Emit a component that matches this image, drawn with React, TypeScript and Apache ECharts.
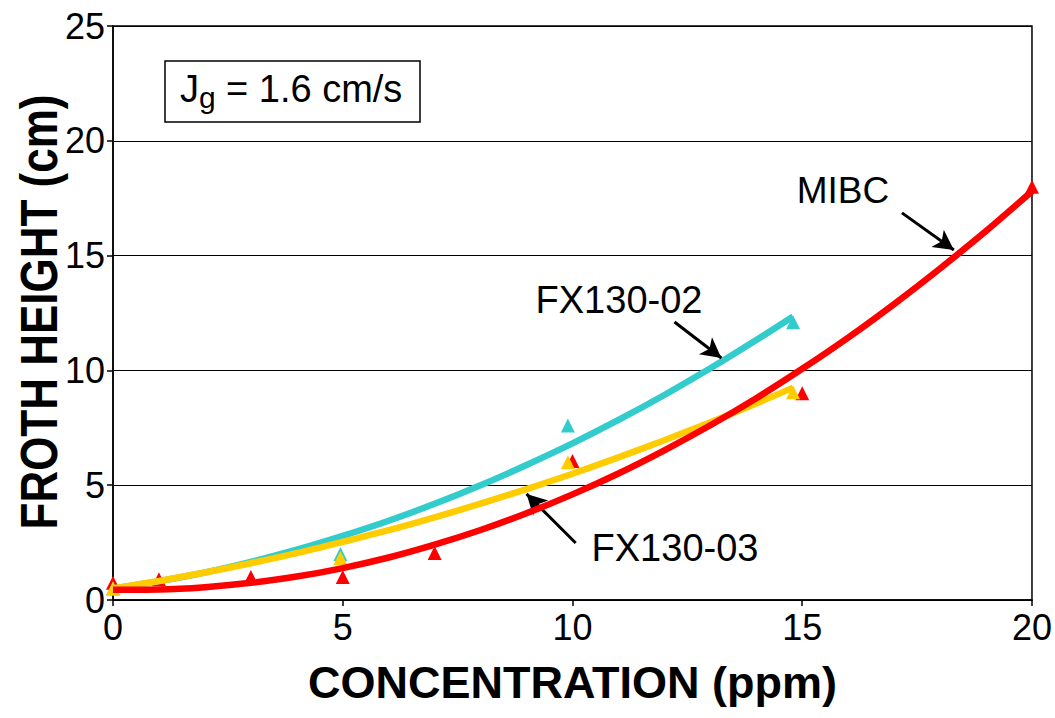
import React, { useEffect, useRef } from "react";
import * as echarts from "echarts";

// Measured points (triangles)
const mibcX = [0, 1, 3, 5, 7, 10, 15, 20];
const mibcY = [0.75, 0.9, 1.0, 1.0, 2.05, 6.05, 9.0, 18.0];
const fx02X = [0, 4.95, 9.9, 14.8];
const fx02Y = [0.5, 2.0, 7.6, 12.1];
const fx03X = [0, 4.95, 9.9, 14.8];
const fx03Y = [0.5, 1.83, 6.0, 9.05];

// Trend curves
const mibcTrendX = [0, 1, 2, 3, 4, 5, 6, 7, 8, 9, 10, 11, 12, 13, 14, 15, 16, 17, 18, 19, 20];
const mibcTrendY = [0.45, 0.46, 0.56, 0.75, 1.02, 1.39, 1.85, 2.41, 3.05, 3.78, 4.6, 5.51, 6.52, 7.61, 8.79, 10.07, 11.43, 12.89, 14.44, 16.07, 17.8];
const fx02TrendX = [0, 1, 2, 3, 4, 5, 6, 7, 8, 9, 10, 11, 12, 13, 14, 14.8];
const fx02TrendY = [0.5, 0.82, 1.2, 1.66, 2.19, 2.79, 3.45, 4.19, 5.0, 5.88, 6.82, 7.84, 8.93, 10.09, 11.32, 12.35];
const fx03TrendX = [0, 1, 2, 3, 4, 5, 6, 7, 8, 9, 10, 11, 12, 13, 14, 14.8];
const fx03TrendY = [0.5, 0.83, 1.2, 1.6, 2.04, 2.53, 3.04, 3.6, 4.2, 4.83, 5.5, 6.21, 6.96, 7.74, 8.56, 9.25];

// Annotation arrows [fromX, fromY, toX, toY] in data units
const arrows = [
  [17.17, 16.86, 18.3, 15.24],
  [12.22, 12.11, 13.24, 10.54],
  [10.07, 2.48, 9.0, 4.62],
];

const xTicks = [0, 5, 10, 15, 20];
const yTicks = [0, 5, 10, 15, 20, 25];

const RED = "#ff0000";
const CYAN = "#33cccc";
const YELLOW = "#ffcc00";
const FONT = "Liberation Sans, Arial, sans-serif";

const zip = (xs: number[], ys: number[]) => xs.map((x, i) => [x, ys[i]]);

export default function App() {
  const ref = useRef<HTMLDivElement>(null);
  useEffect(() => {
    if (!ref.current) return;
    const chart = echarts.init(ref.current, undefined, { renderer: "svg" });
    const trend = (name: string, xs: number[], ys: number[], color: string, z: number) => ({
      name,
      type: "line",
      data: zip(xs, ys),
      smooth: 0.3,
      showSymbol: false,
      symbol: "none",
      lineStyle: { color, width: 6.5 },
      z,
      silent: true,
    });
    const pts = (name: string, xs: number[], ys: number[], color: string, z: number) => ({
      name,
      type: "scatter",
      data: zip(xs, ys),
      symbol: "triangle",
      symbolSize: 14,
      itemStyle: { color, opacity: 1 },
      z,
      silent: true,
    });
    chart.setOption({
      animation: false,
      grid: {
        left: 113,
        right: 22,
        top: 26,
        bottom: 118,
        show: true,
        borderColor: "#000",
        borderWidth: 1.5,
        backgroundColor: "transparent",
      },
      xAxis: {
        type: "value",
        min: xTicks[0],
        max: xTicks[xTicks.length - 1],
        interval: 5,
        name: "CONCENTRATION (ppm)",
        nameLocation: "middle",
        nameGap: 60,
        nameTextStyle: { fontFamily: FONT, fontSize: 45, fontWeight: "bold", color: "#000" },
        axisLine: { lineStyle: { color: "#000", width: 1.5 } },
        axisTick: { show: true, length: 6, lineStyle: { color: "#000", width: 1.5 } },
        axisLabel: { fontFamily: FONT, fontSize: 36, color: "#000", margin: 9 },
        splitLine: { show: false },
      },
      yAxis: {
        type: "value",
        min: yTicks[0],
        max: yTicks[yTicks.length - 1],
        interval: 5,
        axisLine: { show: true, lineStyle: { color: "#000", width: 1.5 } },
        axisTick: { show: true, length: 6, lineStyle: { color: "#000", width: 1.5 } },
        axisLabel: { fontFamily: FONT, fontSize: 36, color: "#000", margin: 8 },
        splitLine: { show: true, lineStyle: { color: "#000", width: 1.2 } },
      },
      series: [
        pts("MIBC points", mibcX, mibcY, RED, 2),
        pts("FX130-02 points", fx02X, fx02Y, CYAN, 2),
        pts("FX130-03 points", fx03X, fx03Y, YELLOW, 2),
        trend("FX130-02", fx02TrendX, fx02TrendY, CYAN, 3),
        trend("FX130-03", fx03TrendX, fx03TrendY, YELLOW, 4),
        {
          ...trend("MIBC", mibcTrendX, mibcTrendY, RED, 5),
          markLine: {
            silent: true,
            symbol: ["none", "arrow"],
            symbolSize: [16, 20],
            label: { show: false },
            lineStyle: { color: "#000", width: 3, type: "solid" },
            data: arrows.map((a) => [
              { coord: [a[0], a[1]] },
              { coord: [a[2], a[3]] },
            ]),
          },
        },
      ],
      graphic: [
        {
          type: "text",
          x: 39,
          y: 312,
          rotation: Math.PI / 2,
          scaleY: 1.18,
          style: {
            text: "FROTH HEIGHT (cm)",
            font: `bold 44px ${FONT}`,
            fill: "#000",
            align: "center",
            verticalAlign: "middle",
          },
          z: 11,
        },
        {
          type: "rect",
          shape: { x: 165, y: 61, width: 255, height: 61 },
          style: { fill: "#fff", stroke: "#000", lineWidth: 1.5 },
          z: 10,
        },
        {
          type: "text",
          x: 180,
          y: 70,
          style: { text: "J", font: `38px ${FONT}`, fill: "#000", verticalAlign: "top" },
          z: 11,
        },
        {
          type: "text",
          x: 199,
          y: 82,
          style: { text: "g", font: `30px ${FONT}`, fill: "#000", verticalAlign: "top" },
          z: 11,
        },
        {
          type: "text",
          x: 226,
          y: 70,
          style: { text: "= 1.6 cm/s", font: `38px ${FONT}`, fill: "#000", verticalAlign: "top" },
          z: 11,
        },
        {
          type: "text",
          x: 843,
          y: 190,
          style: { text: "MIBC", font: `37px ${FONT}`, fill: "#000", align: "center", verticalAlign: "middle" },
          z: 11,
        },
        {
          type: "text",
          x: 619,
          y: 300,
          style: { text: "FX130-02", font: `38px ${FONT}`, fill: "#000", align: "center", verticalAlign: "middle" },
          z: 11,
        },
        {
          type: "text",
          x: 675,
          y: 548,
          style: { text: "FX130-03", font: `38px ${FONT}`, fill: "#000", align: "center", verticalAlign: "middle" },
          z: 11,
        },
      ],
    });
    return () => chart.dispose();
  }, []);
  return (
    <div
      ref={ref}
      style={{ position: "absolute", left: 0, top: 0, width: 1055, height: 718, background: "#fff" }}
    />
  );
}
